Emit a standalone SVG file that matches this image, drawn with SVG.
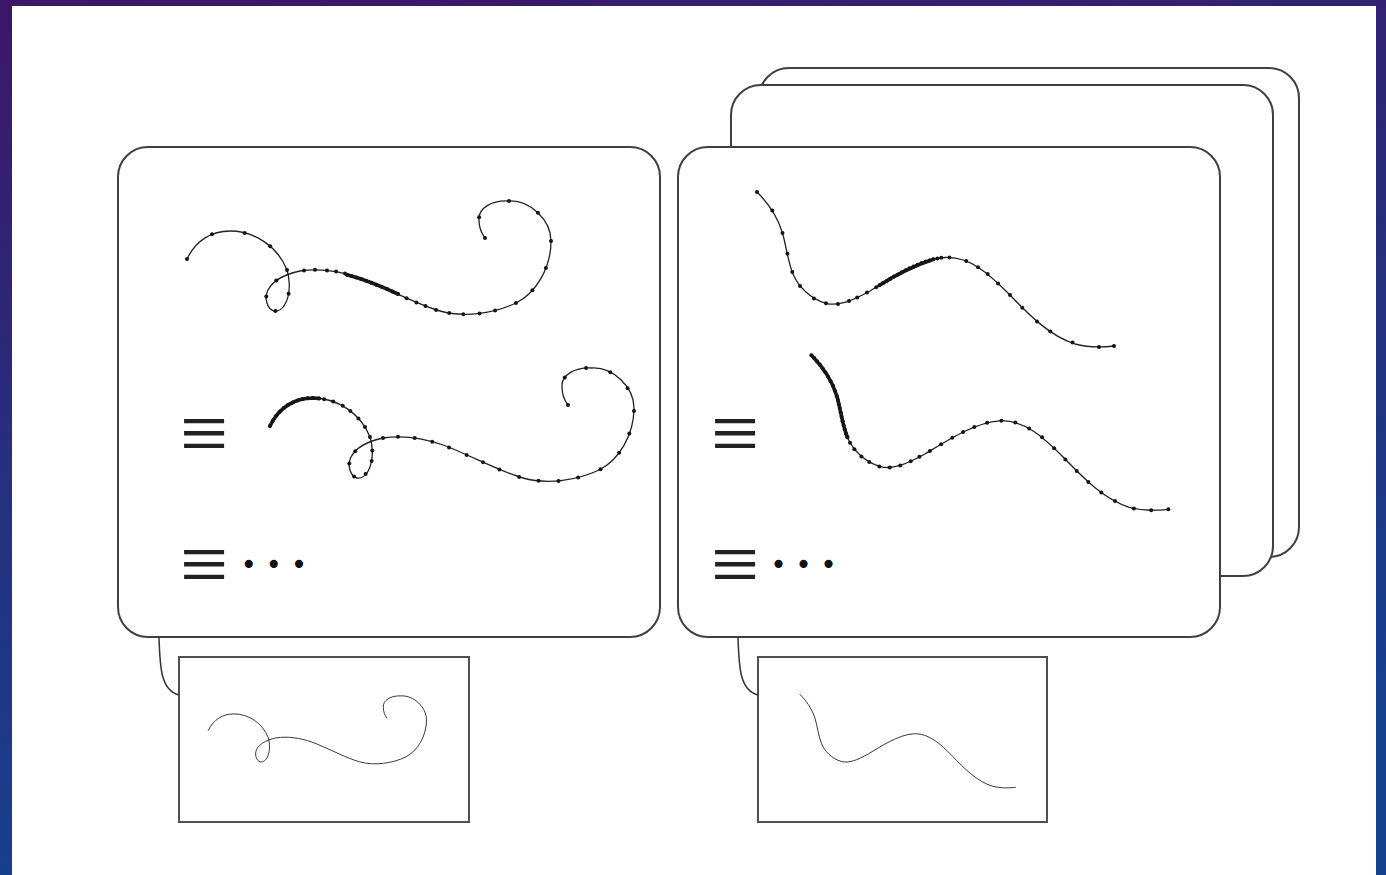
<svg xmlns="http://www.w3.org/2000/svg" xmlns:xlink="http://www.w3.org/1999/xlink" width="1386" height="875" viewBox="0 0 1386 875">
<defs>
<linearGradient id="bg" x1="0" y1="0" x2="0.25" y2="1">
<stop offset="0" stop-color="#3d1668"/>
<stop offset="0.5" stop-color="#262f7e"/>
<stop offset="1" stop-color="#15408f"/>
</linearGradient>
<path id="swirl" d="M187,259 C196,240 212,231 230,231 C255,231 278,247 287,270 C289,276 291,290 287,300 C284,308 279,312 274,311 C267,309 264,298 268,290 C272,282 282,275 300,271 C320,268 340,271 360,278 C385,287 415,304 440,311 C465,318 495,313 516,303 C536,293 551,268 551,241 C551,220 530,200 509,201 C492,200 478,208 479,220 C479,228 482,234 485,238"/>
<path id="wave" d="M757,192 C766,201 777,215 782.5,233 C786,245 788,262 793,274 C798,286 810,299 826,303.3 C838,306.5 852,301 870,291 C890,279 920,259 945,257.5 C970,256 990,275 1008,293 C1030,316 1050,336 1075,344 C1090,348 1105,347 1114,346"/>
</defs>
<style>
.panel{fill:#ffffff;stroke:#404040;stroke-width:2}
.thumb{fill:#ffffff;stroke:#505050;stroke-width:2}
.curve{fill:none;stroke:#222222;stroke-width:1.3}
.thick{fill:none;stroke:#1a1a1a;stroke-width:3.6;stroke-linecap:round}
.mini{fill:none;stroke:#222222;stroke-width:1.5;vector-effect:non-scaling-stroke}
.dots circle{fill:#151515}
.conn{fill:none;stroke:#333333;stroke-width:1.5}
.eq{font-family:"Liberation Serif",serif;font-size:86px;fill:#222222}
.ell{font-family:"DejaVu Sans",sans-serif;font-size:28px;fill:#111111;letter-spacing:-0.2px}
</style>
<rect x="0" y="0" width="1386" height="875" fill="url(#bg)"/>
<rect x="12" y="6" width="1364" height="869" fill="#ffffff"/>

<g id="panel-right-back"><rect class="panel" x="759" y="68" width="540" height="489" rx="30"/></g>
<g id="panel-right-mid"><rect class="panel" x="731" y="85" width="542" height="491" rx="30"/></g>

<g id="panel-left">
<rect class="panel" x="118" y="147" width="542" height="490" rx="30"/>
<use xlink:href="#swirl" class="curve"/>
<path class="thick" d="M347,274.8 Q370,281 398,294"/>
<g class="dots">
<circle cx="187" cy="259" r="2"/><circle cx="212" cy="234.3" r="2"/><circle cx="244.7" cy="232.9" r="2"/><circle cx="270.2" cy="246.3" r="2"/><circle cx="287" cy="270" r="2"/>
<circle cx="288.6" cy="293.7" r="2"/><circle cx="275.5" cy="311" r="2"/><circle cx="266.3" cy="296.4" r="2"/><circle cx="276.3" cy="280.6" r="2"/>
<circle cx="304" cy="270.6" r="2"/><circle cx="315" cy="269.8" r="2"/><circle cx="327" cy="270.4" r="2"/><circle cx="336.1" cy="271.6" r="2"/><circle cx="345" cy="273.5" r="2"/>
<circle cx="347" cy="274.8" r="2"/><circle cx="351.6" cy="276.1" r="2"/><circle cx="356.4" cy="277.5" r="2"/><circle cx="361.2" cy="279.1" r="2"/><circle cx="366.2" cy="280.8" r="2"/><circle cx="371.2" cy="282.7" r="2"/><circle cx="376.4" cy="284.7" r="2"/><circle cx="381.6" cy="286.8" r="2"/><circle cx="387" cy="289" r="2"/><circle cx="392.4" cy="291.5" r="2"/><circle cx="398" cy="294" r="2"/>
<circle cx="406.6" cy="298.3" r="2"/><circle cx="416.4" cy="302.5" r="2"/><circle cx="425.5" cy="306" r="2"/><circle cx="436.1" cy="309.9" r="2"/><circle cx="449.2" cy="313" r="2"/><circle cx="463.4" cy="314.3" r="2"/><circle cx="479.5" cy="313.4" r="2"/><circle cx="495.1" cy="310.4" r="2"/><circle cx="516" cy="303" r="2"/>
<circle cx="532.4" cy="290.3" r="2"/><circle cx="545.9" cy="268.1" r="2"/><circle cx="551" cy="241" r="2"/><circle cx="537.9" cy="212.7" r="2"/><circle cx="509" cy="201" r="2"/><circle cx="479.1" cy="217.2" r="2"/><circle cx="485" cy="238" r="2"/>
</g>
<g transform="translate(83,167)">
<use xlink:href="#swirl" class="curve"/>
<path class="thick" d="M187,259 C196,240 212,231 230,231 L236,231.4"/>
<g class="dots">
<circle cx="187" cy="259" r="2"/><circle cx="189.9" cy="253.5" r="2"/><circle cx="193.2" cy="248.8" r="2"/><circle cx="196.8" cy="244.5" r="2"/><circle cx="200.9" cy="240.9" r="2"/><circle cx="205.1" cy="237.9" r="2"/><circle cx="209.7" cy="235.4" r="2"/><circle cx="214.4" cy="233.5" r="2"/><circle cx="219.5" cy="232.1" r="2"/><circle cx="224.7" cy="231.3" r="2"/><circle cx="230" cy="231" r="2"/><circle cx="236" cy="231.4" r="2"/>
<circle cx="241.1" cy="232.2" r="2"/><circle cx="250.2" cy="234.6" r="2"/><circle cx="259.7" cy="238.8" r="2"/><circle cx="267.4" cy="244" r="2"/><circle cx="275.4" cy="251.4" r="2"/><circle cx="282" cy="260.1" r="2"/><circle cx="287" cy="270" r="2"/>
<circle cx="289.3" cy="283.5" r="2"/><circle cx="288.6" cy="294" r="2"/><circle cx="282.6" cy="307" r="2"/><circle cx="271.1" cy="309.5" r="2"/><circle cx="266.3" cy="296.4" r="2"/><circle cx="272.2" cy="284.3" r="2"/>
<circle cx="300" cy="271" r="2"/><circle cx="315" cy="269.8" r="2"/><circle cx="331.7" cy="270.9" r="2"/><circle cx="349.2" cy="274.7" r="2"/><circle cx="366" cy="280.4" r="2"/><circle cx="383.6" cy="287.9" r="2"/><circle cx="400" cy="295.3" r="2"/><circle cx="416.4" cy="302.5" r="2"/><circle cx="436.1" cy="309.9" r="2"/>
<circle cx="455.5" cy="313.7" r="2"/><circle cx="475.5" cy="313.9" r="2"/><circle cx="495.1" cy="310.4" r="2"/><circle cx="517.5" cy="302.2" r="2"/><circle cx="536.1" cy="285.8" r="2"/><circle cx="546.3" cy="266.5" r="2"/><circle cx="551" cy="244" r="2"/>
<circle cx="544.6" cy="221.2" r="2"/><circle cx="527.3" cy="205.2" r="2"/><circle cx="503.1" cy="201.1" r="2"/><circle cx="481.8" cy="210.4" r="2"/><circle cx="485" cy="238" r="2"/>
</g>
</g>
<text class="eq" x="180" y="462.4">≡</text>
<text class="eq" x="180" y="592.7">≡</text>
<text class="ell" x="240.6" y="573.8">• • •</text>
</g>

<g id="panel-right">
<rect class="panel" x="678" y="147" width="542" height="490" rx="30"/>
<use xlink:href="#wave" class="curve"/>
<path class="thick" d="M879.5,285.2 Q906,268.5 933.5,259.3"/>
<g class="dots">
<circle cx="757" cy="192" r="2"/><circle cx="772.3" cy="210.6" r="2"/><circle cx="782.5" cy="233" r="2"/><circle cx="787.4" cy="253.8" r="2"/><circle cx="792.3" cy="272" r="2"/><circle cx="800" cy="286" r="2"/><circle cx="814" cy="298.4" r="2"/><circle cx="826" cy="303.3" r="2"/><circle cx="838" cy="304" r="2"/><circle cx="849" cy="301" r="2"/><circle cx="857.2" cy="297.6" r="2"/><circle cx="867" cy="292.6" r="2"/>
<circle cx="876.2" cy="287.2" r="2"/><circle cx="879.5" cy="285.2" r="2"/><circle cx="883.1" cy="283.1" r="2"/><circle cx="886.7" cy="280.9" r="2"/><circle cx="890.3" cy="278.8" r="2"/><circle cx="894" cy="276.6" r="2"/><circle cx="897.9" cy="274.5" r="2"/><circle cx="901.8" cy="272.3" r="2"/><circle cx="905.6" cy="270.3" r="2"/><circle cx="909.5" cy="268.3" r="2"/><circle cx="913.5" cy="266.5" r="2"/><circle cx="917.5" cy="264.8" r="2"/><circle cx="921.5" cy="263.1" r="2"/><circle cx="925.5" cy="261.6" r="2"/><circle cx="929.5" cy="260.4" r="2"/><circle cx="933.5" cy="259.3" r="2"/><circle cx="937.4" cy="258.4" r="2"/>
<circle cx="941.3" cy="257.8" r="2"/><circle cx="949.5" cy="257.5" r="2"/><circle cx="966.2" cy="261.1" r="2"/><circle cx="978" cy="267.3" r="2"/><circle cx="987.7" cy="274" r="2"/><circle cx="998.1" cy="283.4" r="2"/><circle cx="1010" cy="295" r="2"/><circle cx="1022.3" cy="307.7" r="2"/><circle cx="1037" cy="321.4" r="2"/><circle cx="1050.3" cy="331.6" r="2"/><circle cx="1072.5" cy="342.5" r="2"/><circle cx="1099" cy="346.9" r="2"/><circle cx="1114" cy="346" r="2"/>
</g>
<g transform="translate(54.4,163.3)">
<use xlink:href="#wave" class="curve"/>
<path class="thick" d="M757,192 C766,201 777,215 782.5,233 C786,245 788,262 793,274"/>
<g class="dots">
<circle cx="757" cy="192" r="2"/><circle cx="759.8" cy="194.8" r="2"/><circle cx="762.6" cy="198" r="2"/><circle cx="765.5" cy="201.4" r="2"/><circle cx="768.3" cy="205.1" r="2"/><circle cx="771.1" cy="209.1" r="2"/><circle cx="773.7" cy="213.4" r="2"/><circle cx="776.3" cy="217.9" r="2"/><circle cx="778.6" cy="222.7" r="2"/><circle cx="780.7" cy="227.7" r="2"/><circle cx="782.5" cy="233" r="2"/>
<circle cx="783.5" cy="236.8" r="2"/><circle cx="784.3" cy="240.8" r="2"/><circle cx="785.3" cy="244.8" r="2"/><circle cx="786.3" cy="249.1" r="2"/><circle cx="787.2" cy="253.5" r="2"/><circle cx="788.2" cy="257.9" r="2"/><circle cx="789.2" cy="262.1" r="2"/><circle cx="790.4" cy="266.3" r="2"/><circle cx="791.6" cy="270.2" r="2"/><circle cx="793" cy="274" r="2"/>
<circle cx="795.6" cy="279.4" r="2"/><circle cx="800" cy="286" r="2"/><circle cx="807" cy="293.2" r="2"/><circle cx="814.8" cy="298.6" r="2"/><circle cx="825" cy="303.1" r="2"/><circle cx="835.4" cy="304.1" r="2"/><circle cx="845.8" cy="302.1" r="2"/><circle cx="856.3" cy="298" r="2"/><circle cx="865" cy="293.5" r="2"/>
<circle cx="875.5" cy="287.6" r="2"/><circle cx="886.7" cy="280.9" r="2"/><circle cx="897.9" cy="274.5" r="2"/><circle cx="908.7" cy="268.7" r="2"/><circle cx="919.9" cy="263.8" r="2"/><circle cx="932.7" cy="259.5" r="2"/><circle cx="947" cy="257.4" r="2"/><circle cx="960.9" cy="259.3" r="2"/><circle cx="974.7" cy="265.3" r="2"/><circle cx="987.7" cy="274" r="2"/><circle cx="999.7" cy="284.9" r="2"/><circle cx="1011" cy="296.3" r="2"/><circle cx="1022.3" cy="307.7" r="2"/><circle cx="1033.9" cy="318.6" r="2"/><circle cx="1046.9" cy="329.3" r="2"/><circle cx="1060.6" cy="337.7" r="2"/><circle cx="1079.5" cy="345.1" r="2"/><circle cx="1096.8" cy="346.9" r="2"/><circle cx="1114" cy="346" r="2"/>
</g>
</g>
<text class="eq" x="711" y="462.4">≡</text>
<text class="eq" x="711" y="592.7">≡</text>
<text class="ell" x="770.3" y="573.8">• • •</text>
</g>

<g id="thumb-left">
<rect class="thumb" x="179" y="657" width="290" height="165"/>
<use xlink:href="#swirl" class="mini" transform="translate(95.9,575.3) scale(0.6)"/>
</g>
<g id="thumb-right">
<rect class="thumb" x="758" y="657" width="289" height="165"/>
<use xlink:href="#wave" class="mini" transform="translate(341.8,578) scale(0.605)"/>
</g>

<g id="connectors">
<path class="conn" d="M159,637 C160,665 160,690 179,695"/>
<path class="conn" d="M738,637 C739,665 739,690 758,695"/>
</g>
</svg>
